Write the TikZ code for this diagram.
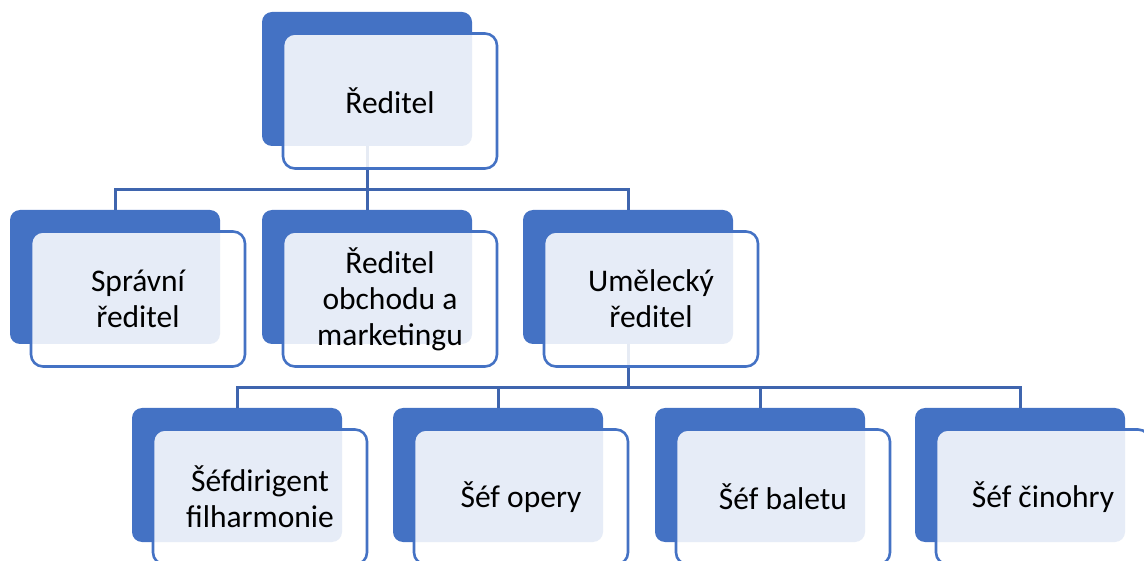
\documentclass[tikz,border=0pt]{standalone}
\usepackage{fontspec}
\setmainfont{Carlito}
\usetikzlibrary{positioning}
\definecolor{boxblue}{HTML}{4472C4}
\definecolor{lineblue}{HTML}{3F65AE}
\tikzset{
  backplate/.style={rectangle, rounded corners=10pt, fill=boxblue, minimum width=210pt, minimum height=134pt, inner sep=0pt},
  frontplate/.style={rectangle, rounded corners=12pt, draw=boxblue, line width=2.6pt, fill=white, fill opacity=0.87, text opacity=1, minimum width=214pt, minimum height=135pt, align=center, inner sep=0pt, font=\fontsize{31.5}{36}\selectfont},
  conn/.style={draw=lineblue, line width=3pt},
}

\begin{document}
\begin{tikzpicture}[x=1pt, y=-1pt]
    \useasboundingbox (0,0) rectangle (1144,561);
    \clip (0,0) rectangle (1144,561);
    % back plates
    \node[backplate] (reditel) at (367,79) {};
    \node[backplate] (spravni) at (115,277) {};
    \node[backplate] (obchod) at (367,277) {};
    \node[backplate] (umel) at (628,277) {};
    \node[backplate] (dirig) at (237,475) {};
    \node[backplate] (opera) at (498,475) {};
    \node[backplate] (balet) at (760,475) {};
    \node[backplate] (cinohra) at (1020,475) {};
    % connectors
    \foreach \n in {spravni, obchod, umel}
        \draw[conn] (reditel.south) -- ++(0,43) -| (\n.north);
    \foreach \n in {dirig, opera, balet, cinohra}
        \draw[conn] (umel.south) -- ++(0,43) -| (\n.north);
    % front plates
    \node[frontplate] (reditel-f) at ([shift={(23,22)}]reditel.center) {Ředitel};
    \node[frontplate] (spravni-f) at ([shift={(23,22)}]spravni.center) {Správní\\ředitel};
    \node[frontplate] (obchod-f) at ([shift={(23,22)}]obchod.center) {Ředitel\\obchodu a\\marketingu};
    \node[frontplate] (umel-f) at ([shift={(23,22)}]umel.center) {Umělecký\\ředitel};
    \node[frontplate] (dirig-f) at ([shift={(23,22)}]dirig.center) {Šéfdirigent\\filharmonie};
    \node[frontplate] (opera-f) at ([shift={(23,22)}]opera.center) {Šéf opery};
    \node[frontplate] (balet-f) at ([shift={(23,22)}]balet.center) {Šéf baletu};
    \node[frontplate] (cinohra-f) at ([shift={(23,22)}]cinohra.center) {Šéf činohry};
\end{tikzpicture}
\end{document}
